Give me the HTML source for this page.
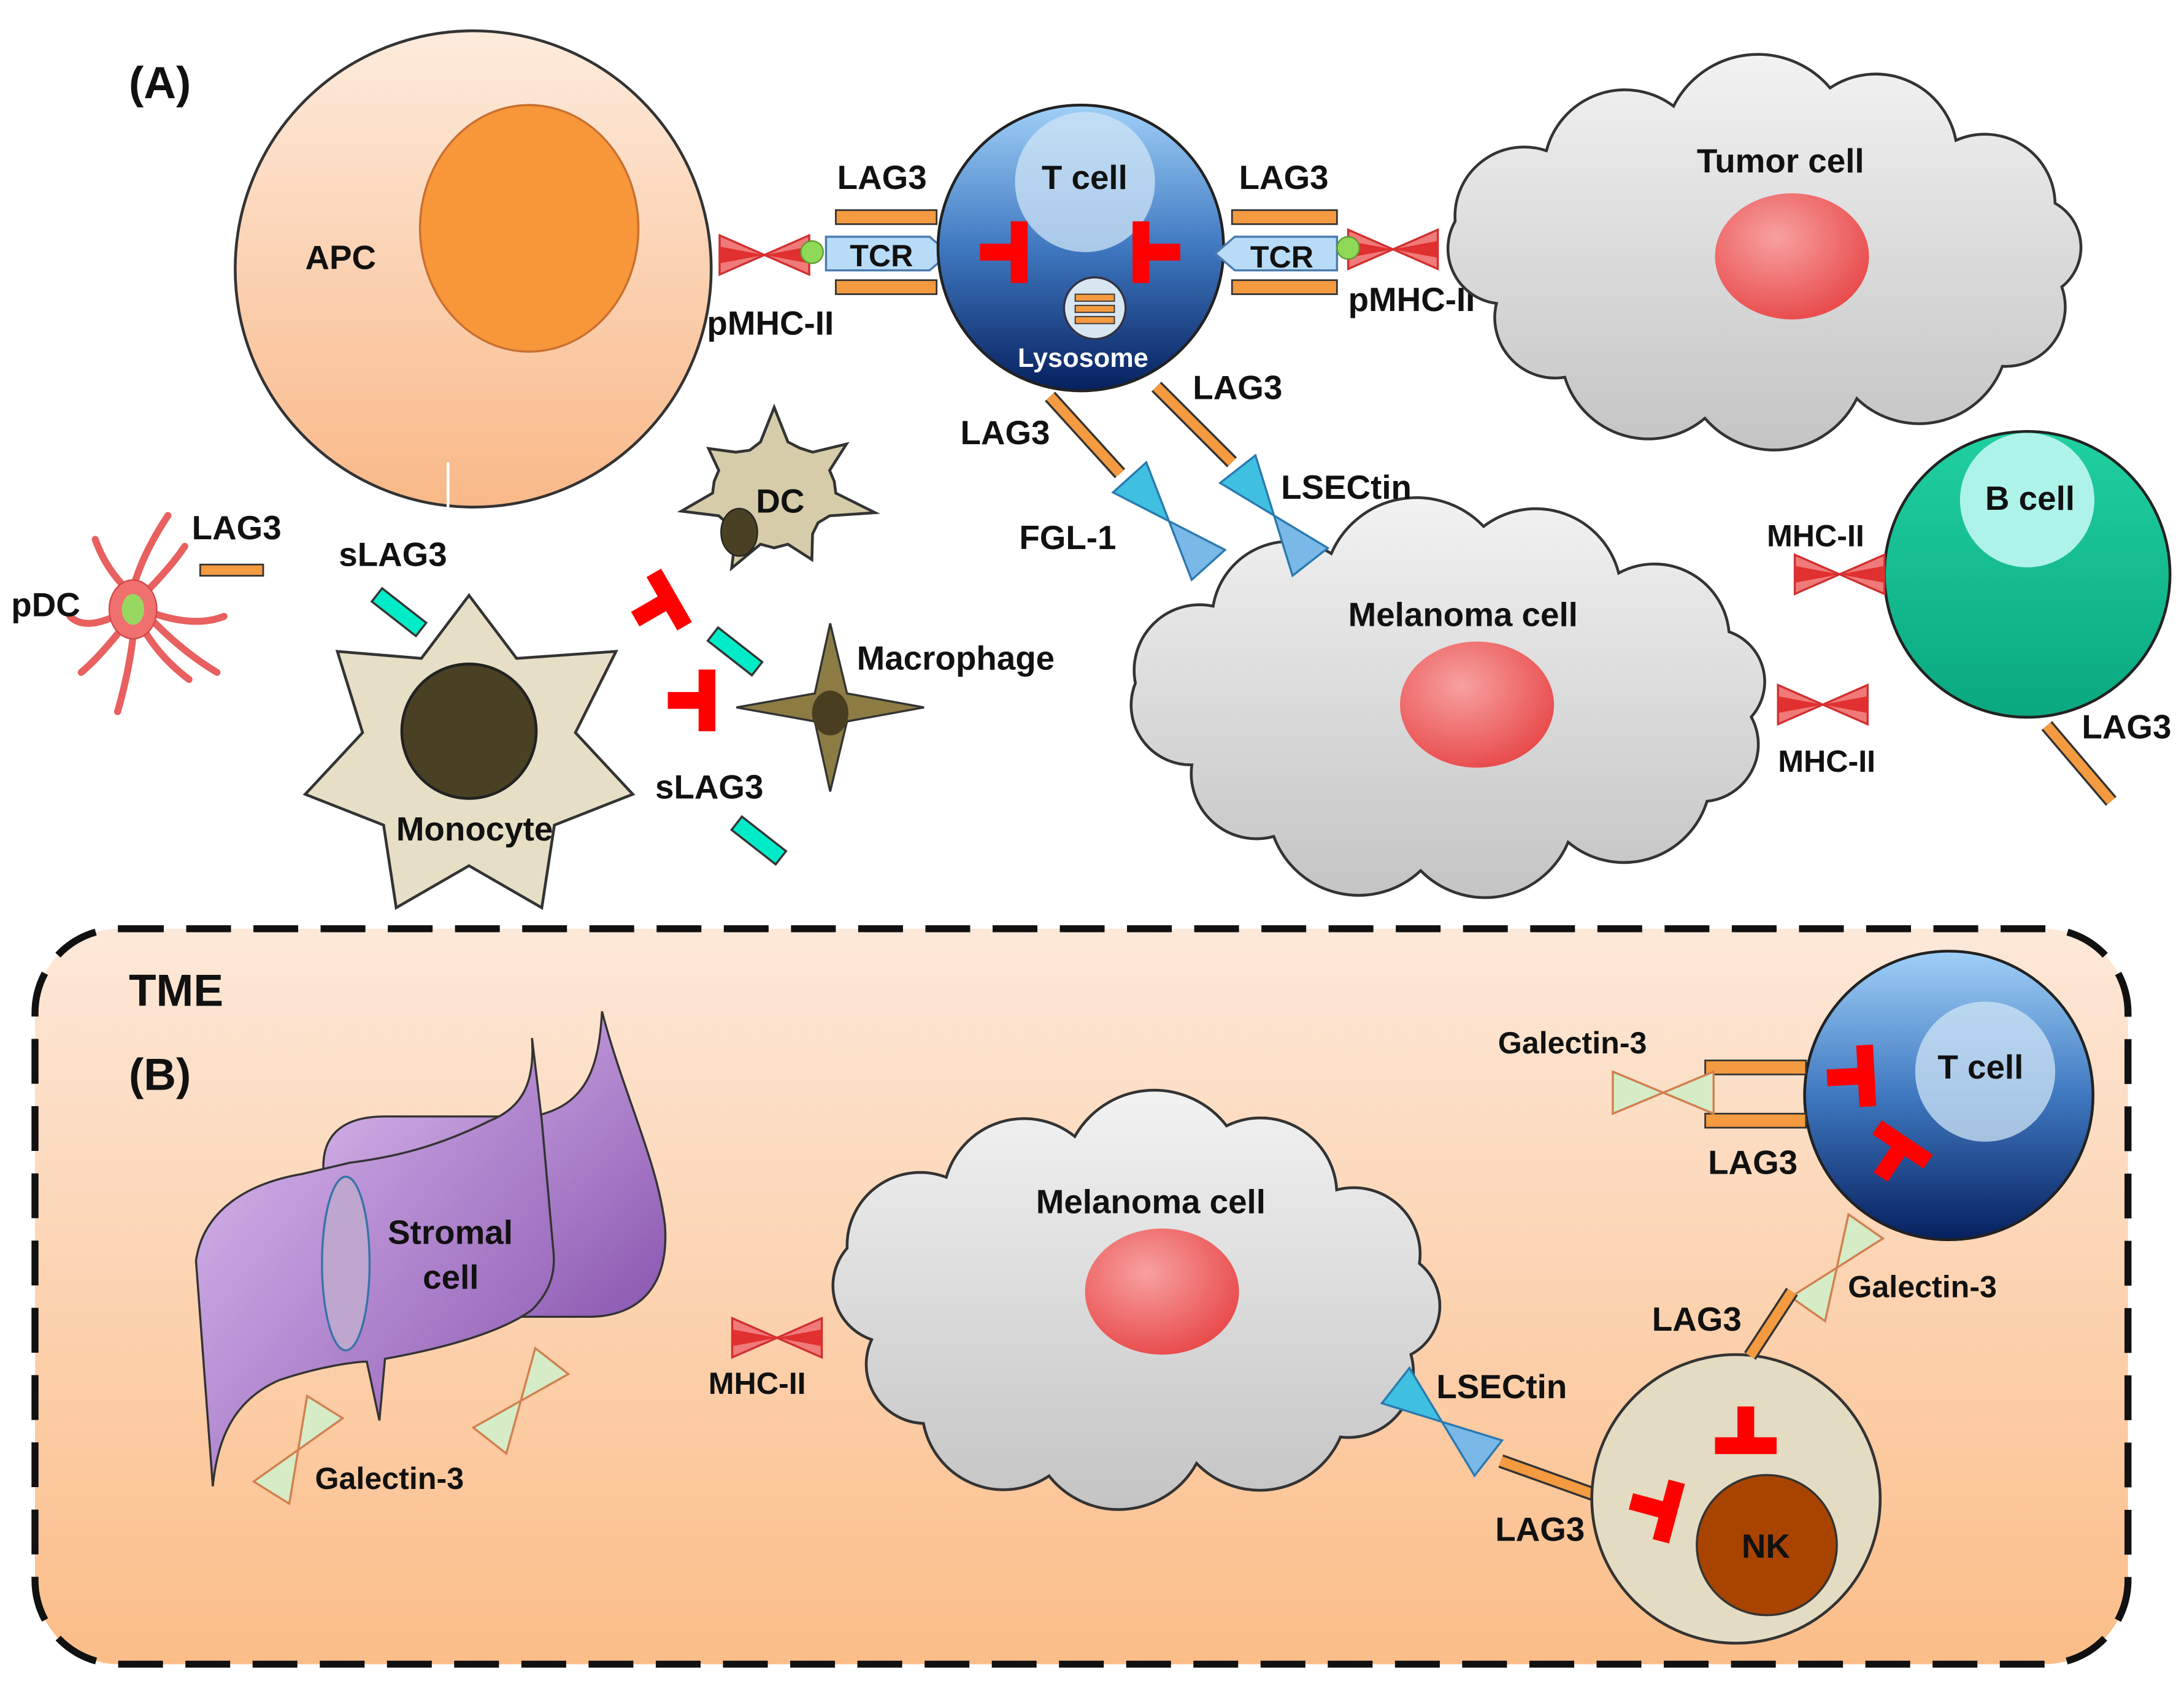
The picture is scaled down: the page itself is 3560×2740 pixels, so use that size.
<!DOCTYPE html>
<html><head><meta charset="utf-8">
<style>
html,body{margin:0;padding:0;background:#fff;}
svg{display:block;}
text{font-family:"Liberation Sans",Arial,sans-serif;font-weight:bold;fill:#111;}
</style></head>
<body>
<svg id="s" width="3560" height="2740" viewBox="0 0 1560 1200" preserveAspectRatio="none" xmlns="http://www.w3.org/2000/svg">
<defs>
<linearGradient id="apc" x1="0" y1="0" x2="0" y2="1"><stop offset="0" stop-color="#fdebdc"/><stop offset="1" stop-color="#f9b888"/></linearGradient>
<linearGradient id="tc" x1="0" y1="0" x2="0" y2="1"><stop offset="0" stop-color="#9fd0f8"/><stop offset="0.5" stop-color="#3f78c0"/><stop offset="1" stop-color="#06205e"/></linearGradient>
<linearGradient id="cl" x1="0" y1="0" x2="0" y2="1"><stop offset="0" stop-color="#f2f2f2"/><stop offset="1" stop-color="#c4c4c4"/></linearGradient>
<radialGradient id="red" cx="0.4" cy="0.35" r="0.7"><stop offset="0" stop-color="#f8a0a0"/><stop offset="1" stop-color="#e84848"/></radialGradient>
<linearGradient id="tme" x1="0" y1="0" x2="0" y2="1"><stop offset="0" stop-color="#fde8d8"/><stop offset="1" stop-color="#fbbd88"/></linearGradient>
<linearGradient id="pur" x1="0" y1="0" x2="1" y2="1"><stop offset="0" stop-color="#dcbdf0"/><stop offset="1" stop-color="#8a56b0"/></linearGradient>
<linearGradient id="bc" x1="0" y1="0" x2="0" y2="1"><stop offset="0" stop-color="#20d0a0"/><stop offset="1" stop-color="#0aa880"/></linearGradient>
<g id="inh"><line x1="-28" y1="0" x2="0" y2="0" stroke="#f00" stroke-width="12"/><line x1="0" y1="-22" x2="0" y2="22" stroke="#f00" stroke-width="12"/></g>
<g id="mhc"><polygon points="-32,-14 -32,14 0,0" fill="#f07a7a" stroke="#d03030" stroke-width="1.5"/><polygon points="32,-14 32,14 0,0" fill="#f07a7a" stroke="#d03030" stroke-width="1.5"/><polygon points="-32,-6 -32,6 0,0" fill="#e03030"/><polygon points="32,-6 32,6 0,0" fill="#e03030"/></g>
<g id="blu"><polygon points="-42,-16 -42,16 0,0" fill="#40c0e0" stroke="#2a7ab0" stroke-width="1.5"/><polygon points="42,-16 42,16 0,0" fill="#7ab8e8" stroke="#2a7ab0" stroke-width="1.5"/></g>
<g id="gal"><polygon points="-36,-15 -36,15 0,0" fill="#d6ecc6" stroke="#d08050" stroke-width="1.5"/><polygon points="36,-15 36,15 0,0" fill="#d6ecc6" stroke="#d08050" stroke-width="1.5"/></g>
<g id="sl"><rect x="-20" y="-6" width="40" height="12" fill="#00ecc8" stroke="#333" stroke-width="1.5"/></g>
</defs>

<text x="92" y="70" font-size="32">(A)</text>

<circle cx="338" cy="192" r="170" fill="url(#apc)" stroke="#333" stroke-width="2"/>
<ellipse cx="378" cy="163" rx="78" ry="88" fill="#f8963a" stroke="#c87030" stroke-width="1.5"/>
<text x="218" y="192" font-size="24">APC</text>
<line x1="320" y1="330" x2="320" y2="362" stroke="#fff" stroke-width="2"/>

<use href="#mhc" x="546" y="182"/>
<circle cx="580" cy="180" r="8" fill="#90d858" stroke="#5a9a30"/>
<rect x="597" y="150" width="72" height="10" fill="#f49a40" stroke="#333" stroke-width="1.2"/>
<rect x="597" y="200" width="72" height="10" fill="#f49a40" stroke="#333" stroke-width="1.2"/>
<polygon points="590,169 664,169 678,181 664,193 590,193" fill="#b8dcf8" stroke="#4a7ab0" stroke-width="1.5"/>
<text x="607" y="190" font-size="22">TCR</text>
<text x="598" y="135" font-size="24">LAG3</text>
<text x="505" y="239" font-size="24">pMHC-II</text>

<circle cx="772" cy="177" r="102" fill="url(#tc)" stroke="#222" stroke-width="2"/>
<circle cx="775" cy="130" r="50" fill="#cfe4f6" opacity="0.75"/>
<text x="744" y="135" font-size="24">T cell</text>
<use href="#inh" x="728" y="180"/>
<use href="#inh" x="815" y="180" transform="rotate(180 815 180)"/>
<circle cx="782" cy="220" r="22" fill="#d8e6f2" stroke="#334" stroke-width="1.5"/>
<rect x="768" y="210" width="28" height="5" fill="#f49a40" stroke="#333" stroke-width="0.8"/>
<rect x="768" y="218" width="28" height="5" fill="#f49a40" stroke="#333" stroke-width="0.8"/>
<rect x="768" y="226" width="28" height="5" fill="#f49a40" stroke="#333" stroke-width="0.8"/>
<text x="727" y="262" font-size="19" style="fill:#fff">Lysosome</text>

<rect x="880" y="150" width="75" height="10" fill="#f49a40" stroke="#333" stroke-width="1.2"/>
<rect x="880" y="200" width="75" height="10" fill="#f49a40" stroke="#333" stroke-width="1.2"/>
<polygon points="868,181 882,169 955,169 955,193 882,193" fill="#b8dcf8" stroke="#4a7ab0" stroke-width="1.5"/>
<text x="893" y="191" font-size="22">TCR</text>
<use href="#mhc" x="995" y="178"/>
<circle cx="963" cy="177" r="8" fill="#90d858" stroke="#5a9a30"/>
<text x="885" y="135" font-size="24">LAG3</text>
<text x="963" y="222" font-size="24">pMHC-II</text>
<line x1="1060" y1="210" x2="1078" y2="210" stroke="#333" stroke-width="2"/>

<path id="c1" fill="url(#cl)" stroke="#333" stroke-width="2"/>
<ellipse cx="1280" cy="183" rx="55" ry="45" fill="url(#red)"/>
<text x="1212" y="123" font-size="24">Tumor cell</text>

<path id="c2" fill="url(#cl)" stroke="#333" stroke-width="2"/>
<ellipse cx="1055" cy="503" rx="55" ry="45" fill="url(#red)"/>
<text x="963" y="447" font-size="24">Melanoma cell</text>

<line x1="750" y1="283" x2="800" y2="338" stroke="#333" stroke-width="10"/>
<line x1="750" y1="283" x2="800" y2="338" stroke="#f49a40" stroke-width="7"/>
<use href="#blu" transform="translate(835,372) rotate(48)"/>
<line x1="826" y1="276" x2="880" y2="330" stroke="#333" stroke-width="10"/>
<line x1="826" y1="276" x2="880" y2="330" stroke="#f49a40" stroke-width="7"/>
<use href="#blu" transform="translate(910,368) rotate(52)"/>
<text x="686" y="317" font-size="24">LAG3</text>
<text x="852" y="285" font-size="24">LAG3</text>
<text x="728" y="392" font-size="24">FGL-1</text>
<text x="915" y="356" font-size="24">LSECtin</text>

<circle cx="1448" cy="410" r="102" fill="url(#bc)" stroke="#222" stroke-width="2"/>
<circle cx="1448" cy="357" r="48" fill="#aef3ea"/>
<text x="1418" y="364" font-size="24">B cell</text>
<use href="#mhc" x="1314" y="410"/>
<use href="#mhc" x="1302" y="503"/>
<text x="1262" y="390" font-size="22">MHC-II</text>
<text x="1270" y="551" font-size="22">MHC-II</text>
<line x1="1462" y1="518" x2="1508" y2="572" stroke="#333" stroke-width="10"/>
<line x1="1462" y1="518" x2="1508" y2="572" stroke="#f49a40" stroke-width="7"/>
<text x="1487" y="527" font-size="24">LAG3</text>

<g stroke="#e86060" stroke-width="5" stroke-linecap="round" fill="none">
<path d="M95,420 Q102,395 120,368"/>
<path d="M90,420 Q75,405 68,385"/>
<path d="M102,425 Q122,405 132,390"/>
<path d="M82,440 Q60,450 50,440"/>
<path d="M86,450 Q70,470 58,480"/>
<path d="M95,455 Q92,480 84,508"/>
<path d="M103,450 Q115,470 135,485"/>
<path d="M110,438 Q140,448 160,440"/>
<path d="M108,442 Q130,465 155,480"/>
</g>
<ellipse cx="95" cy="435" rx="17" ry="21" fill="#f07070" stroke="#d04848"/>
<ellipse cx="95" cy="435" rx="8" ry="11" fill="#98d860"/>
<text x="8" y="440" font-size="24">pDC</text>
<rect x="143" y="403" width="45" height="8" fill="#f49a40" stroke="#333" stroke-width="1.2"/>
<text x="137" y="385" font-size="24">LAG3</text>

<text x="242" y="404" font-size="24">sLAG3</text>
<use href="#sl" transform="translate(285,437) rotate(38)"/>
<use href="#sl" transform="translate(525,465) rotate(38)"/>
<use href="#sl" transform="translate(542,600) rotate(38)"/>
<text x="468" y="570" font-size="24">sLAG3</text>

<polygon points="335,425 369,470 440,465 411,523 452,567 396,589 387,648 335,618 283,648 274,589 218,567 259,523 241,465 301,470" fill="#e6dfc6" stroke="#333" stroke-width="2"/>
<circle cx="335" cy="522" r="48" fill="#4a4024" stroke="#222" stroke-width="2"/>
<text x="283" y="600" font-size="24">Monocyte</text>

<polygon id="dc" fill="#d6ccaa" stroke="#333" stroke-width="2"/>
<ellipse cx="528" cy="380" rx="13" ry="17" fill="#4a4024" stroke="#222"/>
<text x="540" y="366" font-size="24">DC</text>

<polygon points="593,445 605,495 660,505 605,515 593,565 582,515 526,505 582,495" fill="#8c7c44" stroke="#333" stroke-width="1.5"/>
<ellipse cx="593" cy="509" rx="13" ry="16" fill="#4a3e20"/>
<text x="612" y="478" font-size="24">Macrophage</text>

<use href="#inh" transform="translate(478,428) rotate(-30)"/>
<use href="#inh" transform="translate(505,500)"/>

<rect x="25" y="663" width="1495" height="525" rx="60" fill="url(#tme)" stroke="#111" stroke-width="5" stroke-dasharray="32 16"/>
<text x="92" y="718" font-size="32">TME</text>
<text x="92" y="778" font-size="32">(B)</text>

<path d="M430,722 C445,780 470,830 475,875 C478,920 455,940 420,940 L370,940 L300,822 L231,835 C230,810 245,797 275,797 L380,797 C420,790 428,760 430,722 Z" fill="url(#pur)" stroke="#333" stroke-width="1.5"/>
<path d="M380,741 C382,770 375,790 350,800 C320,815 290,825 250,830 L216,838 C175,845 145,865 140,900 L152,1061 C155,1030 165,1000 200,985 C230,975 255,972 262,972 L271,1014 L275,970 C320,962 360,950 380,935 C395,920 397,905 395,890 L387,800 Z" fill="url(#pur)" stroke="#333" stroke-width="1.5"/>
<ellipse cx="247" cy="902" rx="17" ry="62" fill="#bea6cf" stroke="#3a72a8" stroke-width="1.5"/>
<text x="277" y="888" font-size="24">Stromal</text>
<text x="302" y="920" font-size="24">cell</text>
<use href="#gal" transform="translate(213,1035) rotate(-58)"/>
<use href="#gal" transform="translate(372,1000) rotate(-52)"/>
<text x="225" y="1063" font-size="22">Galectin-3</text>

<path id="c3" fill="url(#cl)" stroke="#333" stroke-width="2"/>
<ellipse cx="830" cy="922" rx="55" ry="45" fill="url(#red)"/>
<text x="740" y="866" font-size="24">Melanoma cell</text>
<use href="#mhc" x="555" y="955"/>
<text x="506" y="995" font-size="22">MHC-II</text>
<use href="#blu" transform="translate(1030,1015) rotate(38)"/>
<line x1="1072" y1="1043" x2="1142" y2="1068" stroke="#333" stroke-width="10"/>
<line x1="1072" y1="1043" x2="1142" y2="1068" stroke="#f49a40" stroke-width="7"/>
<text x="1026" y="998" font-size="24">LSECtin</text>
<text x="1068" y="1100" font-size="24">LAG3</text>

<circle cx="1240" cy="1070" r="103" fill="#e4dbc3" stroke="#333" stroke-width="2"/>
<circle cx="1262" cy="1103" r="50" fill="#a84400" stroke="#333" stroke-width="1.5"/>
<text x="1244" y="1112" font-size="24">NK</text>
<use href="#inh" transform="translate(1247,1032) rotate(90)"/>
<use href="#inh" transform="translate(1192,1079) rotate(15)"/>

<circle cx="1392" cy="782" r="103" fill="url(#tc)" stroke="#222" stroke-width="2"/>
<circle cx="1418" cy="765" r="50" fill="#cfe4f6" opacity="0.75"/>
<text x="1384" y="770" font-size="24">T cell</text>
<use href="#inh" transform="translate(1333,768) rotate(-3)"/>
<use href="#inh" transform="translate(1359,817) rotate(-56)"/>
<rect x="1218" y="757" width="72" height="10" fill="#f49a40" stroke="#333" stroke-width="1.2"/>
<rect x="1218" y="795" width="72" height="10" fill="#f49a40" stroke="#333" stroke-width="1.2"/>
<use href="#gal" x="1188" y="780"/>
<text x="1070" y="752" font-size="22">Galectin-3</text>
<text x="1220" y="838" font-size="24">LAG3</text>
<use href="#gal" transform="translate(1312,905) rotate(-55)"/>
<line x1="1250" y1="968" x2="1280" y2="922" stroke="#333" stroke-width="10"/>
<line x1="1250" y1="968" x2="1280" y2="922" stroke="#f49a40" stroke-width="7"/>
<text x="1320" y="926" font-size="22">Galectin-3</text>
<text x="1180" y="950" font-size="24">LAG3</text>
</svg>
<script>
function cloud(cx,cy,rx,ry,n,ph){var p=[];for(var i=0;i<n;i++){var a=ph+i*2*Math.PI/n;var j=1+0.06*Math.sin(i*2.3);p.push([cx+rx*j*Math.cos(a),cy+ry*j*Math.sin(a)]);}
var d="M"+p[0][0].toFixed(1)+","+p[0][1].toFixed(1);for(var i=1;i<=n;i++){var q=p[i%n],o=p[i-1];var c=Math.hypot(q[0]-o[0],q[1]-o[1]);var r=c*0.6;d+=" A"+r.toFixed(1)+" "+r.toFixed(1)+" 0 0 1 "+q[0].toFixed(1)+","+q[1].toFixed(1);}return d+"Z";}
document.getElementById("c1").setAttribute("d",cloud(1262,182,215,115,12,0.2));
document.getElementById("c2").setAttribute("d",cloud(1037,500,215,118,12,0.1));
document.getElementById("c3").setAttribute("d",cloud(812,930,205,125,12,0.3));
var pts=[],n=14,R=[72,42,66,44,74,40,62,46,70,42,68,44,60,40];
for(var i=0;i<n*2;i++){var a=-Math.PI/2+i*Math.PI/n;var r=(i%2==0)?R[(i/2)%14]:44;pts.push((553+r*Math.cos(a)).toFixed(1)+","+(352+r*0.85*Math.sin(a)).toFixed(1));}
document.getElementById("dc").setAttribute("points",pts.join(" "));
</script>
</body></html>
